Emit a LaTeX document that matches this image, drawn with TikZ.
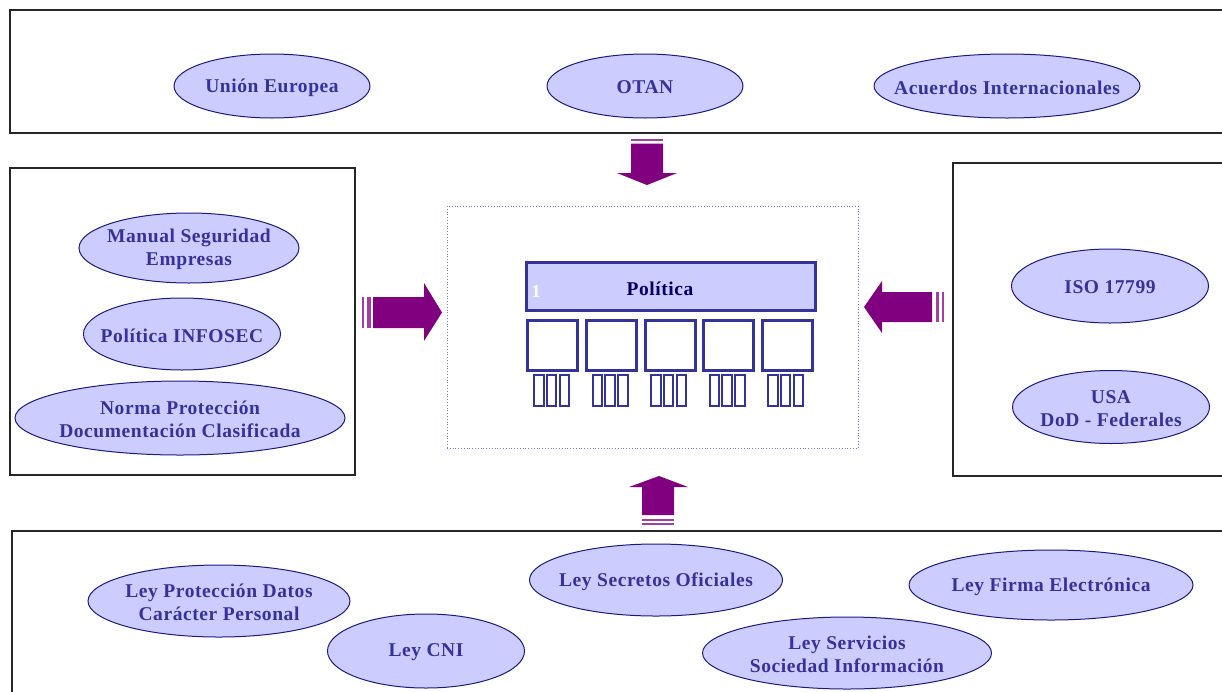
\documentclass[tikz,border=0pt]{standalone}
\usepackage{fontspec}
\setmainfont{Liberation Serif}
\newfontfamily\lblfont[LetterSpace=3]{Liberation Serif}
\usetikzlibrary{shapes.geometric}
\definecolor{ellfill}{HTML}{CCCCFF}
\definecolor{elldraw}{HTML}{1A1A80}
\definecolor{txtblue}{HTML}{333399}
\definecolor{boxblue}{HTML}{333399}
\definecolor{poltxt}{HTML}{000066}
\definecolor{arrpurple}{HTML}{800080}
\definecolor{stripe}{HTML}{A040A0}
\tikzset{
  ell/.style={ellipse, draw=elldraw, fill=ellfill, line width=1pt, inner sep=0pt},
  lbl/.style={text=txtblue, font=\lblfont\fontsize{19.5}{23}\selectfont\bfseries, align=center, inner sep=0pt, yshift=-1.5pt},
  frame/.style={draw=black!85, line width=1.2pt},
  core/.style={draw=blue!55, dotted, line width=0.8pt, inner sep=0pt},
  polbox/.style={draw=boxblue, fill=ellfill, line width=3pt, inner sep=0pt},
  sqbox/.style={draw=boxblue, fill=white, line width=3pt, inner sep=0pt, minimum width=50pt, minimum height=50pt},
  barbox/.style={draw=boxblue, fill=white, line width=2pt, inner sep=0pt, minimum width=9.5pt, minimum height=31pt},
  bigarrow/.style={fill=arrpurple},
  stripefill/.style={fill=stripe}
}
\newcommand{\myell}[6]{%
  \node[ell, minimum width=#3pt, minimum height=#4pt] (#1) at (#2) {};
  \node[lbl] (#1-t) at (#1) {#5#6};}
\begin{document}
\begin{tikzpicture}[x=1pt,y=-1pt]
\useasboundingbox (0,0) rectangle (1222,691);
\fill[white] (0,0) rectangle (1222,691);

% frames
\draw[frame] (10,10) rectangle (1240,133);
\draw[frame] (10,168) rectangle (355,475);
\draw[frame] (953,163) rectangle (1240,476);
\draw[frame] (12,531) rectangle (1240,700);

% top ellipses
\myell{ue}{272,86}{196}{64}{Unión Europea}{}
\myell{otan}{645,86}{196}{64}{OTAN}{}
\myell{ai}{1007,86}{266}{64}{Acuerdos Internacionales}{}

% left ellipses
\myell{mse}{189,248}{220}{70}{Manual Seguridad\\Empresas}{}
\myell{pin}{182,334}{197}{72}{Política INFOSEC}{}
\myell{npd}{180,418}{330}{74}{Norma Protección\\Documentación Clasificada}{}

% right ellipses
\myell{iso}{1110,286}{197}{74}{ISO 17799}{}
\myell{usa}{1111,407}{197}{73}{USA\\DoD - Federales}{}

% bottom ellipses
\myell{lpd}{219,601}{262}{72}{Ley Protección Datos\\Carácter Personal}{}
\myell{cni}{426,651}{197}{74}{Ley CNI}{}
\myell{lso}{656,580}{253}{72}{Ley Secretos Oficiales}{}
\myell{lss}{847,653}{289}{72}{Ley Servicios\\Sociedad Información}{}
\myell{lfe}{1051,585}{284}{70}{Ley Firma Electrónica}{}

% central block
\node[core, minimum width=411pt, minimum height=242pt] (core) at (652.5,327) {};
\node[polbox, minimum width=289pt, minimum height=48pt] (pol) at (671,286.5) {};
\node[text=poltxt, font=\lblfont\fontsize{19.5}{23}\selectfont\bfseries, inner sep=0pt] (pol-t) at (660,289) {Política};
\node[text=white, font=\fontsize{18}{20}\selectfont\bfseries, inner sep=0pt] (pol-n) at (536,292) {1};
\foreach \i in {0,...,4} {
  \node[sqbox] (sq\i) at ({552.5+58.75*\i},345.5) {};
  \foreach \j/\o in {0/0,1/12.5,2/25.5} {
    \node[barbox] (b\i\j) at ({533+58.6*\i+\o+5.75},390.5) {};
  }
}

% arrows
% top (down)
\fill[stripefill] (631,139) rectangle (663,141);
\fill[bigarrow] (631,143.5) -- (663,143.5) -- (663,173) -- (677,173) -- (647,185) -- (617,173) -- (631,173) -- cycle;
% left (right-pointing)
\fill[stripefill] (361.5,297) rectangle (363.5,328);
\fill[stripefill] (366.5,297) rectangle (370.5,328);
\fill[bigarrow] (373,297) -- (424,297) -- (424,283) -- (442,312.5) -- (424,341) -- (424,328) -- (373,328) -- cycle;
% right (left-pointing)
\fill[stripefill] (936,292) rectangle (938.5,322);
\fill[stripefill] (941.5,292) rectangle (944,322);
\fill[bigarrow] (932,292) -- (882,292) -- (882,281) -- (864,307) -- (882,333) -- (882,322) -- (932,322) -- cycle;
% bottom (up)
\fill[stripefill] (642,519) rectangle (674,520.5);
\fill[stripefill] (642,523) rectangle (674,524.5);
\fill[bigarrow] (642,515) -- (642,487) -- (629,487) -- (659,476) -- (688,487) -- (674,487) -- (674,515) -- cycle;
\end{tikzpicture}
\end{document}
